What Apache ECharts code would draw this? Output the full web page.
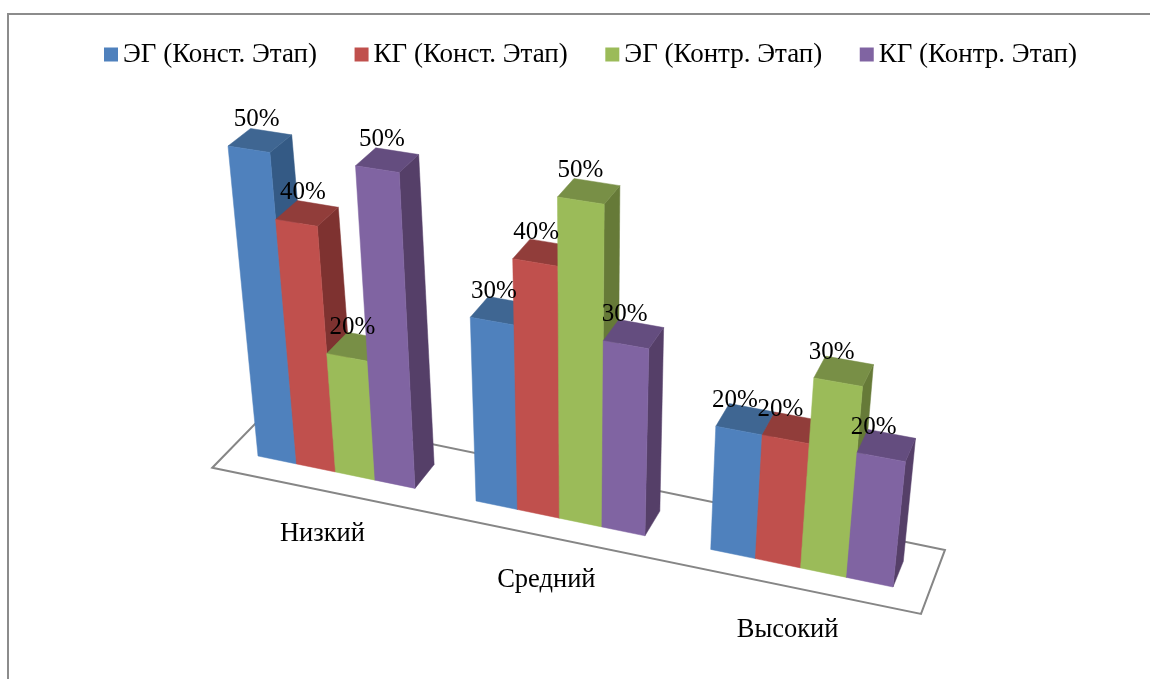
<!DOCTYPE html>
<html>
<head>
<meta charset="utf-8">
<style>html,body{margin:0;padding:0;background:#fff}#c{width:1150px;height:679px}</style>
<script src="https://cdn.jsdelivr.net/npm/echarts@6/dist/echarts.min.js"></script>
</head>
<body>
<div id="c"></div>
<script>
const categories = ['Низкий', 'Средний', 'Высокий'];
const seriesNames = ['ЭГ (Конст. Этап)', 'КГ (Конст. Этап)', 'ЭГ (Контр. Этап)', 'КГ (Контр. Этап)'];
const egStart = [50, 30, 20];
const kgStart = [40, 40, 20];
const egEnd = [20, 50, 30];
const kgEnd = [50, 30, 20];
const seriesValues = [egStart, kgStart, egEnd, kgEnd];

const frontColors = ['#4F81BD', '#C0504D', '#9BBB59', '#8064A2'];
const topColors = ['#3F6692', '#913D3A', '#788F46', '#644D7F'];
const sideColors = ['#345A85', '#7E3230', '#667A38', '#553F68'];

const FONT = '"Liberation Serif"';
const GAP_UNITS = 1.5;          // gap between clusters, in bar widths
const BAR_UNITS = 4 + GAP_UNITS;

// Camera of the 3-D view: a projective map of the axes' plane onto the screen.
const plane = [[258, 456], [893, 587], [926, 254], [228, 146]];
const edgeInset = (GAP_UNITS / 2) / (3 * BAR_UNITS);
const vanish = [1450, -800];
const depthStep = 0.0185;
const BAR_DEPTH = 1, FLOOR_FRONT = -0.76, FLOOR_BACK = 1.72;

const H = (function () {
  const [[x0, y0], [x1, y1], [x2, y2], [x3, y3]] = plane;
  const dx1 = x1 - x2, dx2 = x3 - x2, dy1 = y1 - y2, dy2 = y3 - y2;
  const sx = x0 - x1 + x2 - x3, sy = y0 - y1 + y2 - y3;
  const det = dx1 * dy2 - dx2 * dy1;
  const g = (sx * dy2 - dx2 * sy) / det, h = (dx1 * sy - sx * dy1) / det;
  return { a: x1 - x0 + g * x1, b: x3 - x0 + h * x3, c: x0, d: y1 - y0 + g * y1, e: y3 - y0 + h * y3, f: y0, g, h };
})();

function project(cs, px, py, depth) {
  const u = (px - cs.x) / cs.width;
  const t = (cs.y + cs.height - py) / cs.height;
  const s = (u - edgeInset) / (1 - 2 * edgeInset);
  const w = H.g * s + H.h * t + 1;
  const x = (H.a * s + H.b * t + H.c) / w;
  const y = (H.d * s + H.e * t + H.f) / w;
  const k = depth * depthStep;
  return [x + (vanish[0] - x) * k, y + (vanish[1] - y) * k];
}

function face(points, color, z2) {
  return { type: 'polygon', z2, shape: { points }, style: { fill: color, stroke: color, lineWidth: 0.5 } };
}

function barRenderer(index) {
  return function (params, api) {
    const cs = params.coordSys;
    const value = api.value(1);
    const base = api.coord([api.value(0), 0]);
    const top = api.coord([api.value(0), value]);
    const unit = api.size([1, 0])[0] / BAR_UNITS;
    const xa = base[0] - 2 * unit + index * unit, xb = xa + unit;
    const p = (x, y, d) => project(cs, x, y, d);
    const z = 10 + index * 5 + params.dataIndex * 30;
    const tl = p(xa, top[1], 0), tr = p(xb, top[1], 0);
    const labelAt = p((xa + xb) / 2, top[1], 0);
    return {
      type: 'group',
      children: [
        face([p(xb, base[1], 0), p(xb, base[1], BAR_DEPTH), p(xb, top[1], BAR_DEPTH), tr], sideColors[index], z),
        face([tl, tr, p(xb, top[1], BAR_DEPTH), p(xa, top[1], BAR_DEPTH)], topColors[index], z + 1),
        face([p(xa, base[1], 0), p(xb, base[1], 0), tr, tl], frontColors[index], z + 2),
        {
          type: 'text', z2: 500,
          x: labelAt[0] + (570 - labelAt[0]) * 0.024,
          y: labelAt[1] - 30,
          style: { text: value + '%', fontFamily: FONT, fontSize: 25, fill: '#000', align: 'center', verticalAlign: 'middle' }
        }
      ]
    };
  };
}

function floorRenderer(params, api) {
  const cs = params.coordSys;
  const xl = cs.x, xr = cs.x + cs.width, yb = cs.y + cs.height;
  return {
    type: 'polygon', z2: 1,
    shape: { points: [project(cs, xl, yb, FLOOR_FRONT), project(cs, xr, yb, FLOOR_FRONT), project(cs, xr, yb, FLOOR_BACK), project(cs, xl, yb, FLOOR_BACK)] },
    style: { fill: '#fff', stroke: '#868686', lineWidth: 2 }
  };
}

function categoryRenderer(params, api) {
  const cs = params.coordSys;
  const c = api.coord([api.value(0), 0]);
  const at = project(cs, c[0], c[1], 0);
  return {
    type: 'text', z2: 500, x: at[0] - 13, y: at[1] + 62,
    style: { text: categories[params.dataIndex], fontFamily: FONT, fontSize: 26.5, fill: '#000', align: 'center', verticalAlign: 'middle' }
  };
}

const chart = echarts.init(document.getElementById('c'), null, { renderer: 'canvas' });
chart.setOption({
  animation: false,
  backgroundColor: '#fff',
  color: frontColors,
  graphic: [{
    type: 'rect', silent: true, z: -1,
    shape: { x: 8, y: 14, width: 1400, height: 900 },
    style: { fill: 'transparent', stroke: '#8C8C8C', lineWidth: 2 }
  }],
  legend: {
    data: seriesNames, left: 99, top: 36, icon: 'rect', itemWidth: 14, itemHeight: 14, itemGap: 37.5, selectedMode: false,
    textStyle: { fontFamily: FONT, fontSize: 27, color: '#000' }
  },
  tooltip: { show: false },
  grid: { left: 100, right: 100, top: 100, bottom: 100 },
  xAxis: { type: 'category', data: categories, show: false },
  yAxis: { type: 'value', min: 0, max: 50, show: false },
  series: [
    { type: 'custom', name: 'floor', silent: true, clip: false, renderItem: floorRenderer, data: [[0, 0]], encode: { x: 0, y: 1 } },
    ...seriesNames.map((name, i) => ({
      type: 'custom', name, silent: true, clip: false, renderItem: barRenderer(i),
      itemStyle: { color: frontColors[i] },
      data: seriesValues[i].map((v, c) => [c, v]), encode: { x: 0, y: 1 }
    })),
    { type: 'custom', name: 'labels', silent: true, clip: false, renderItem: categoryRenderer, data: categories.map((_, c) => [c, 0]), encode: { x: 0, y: 1 } }
  ]
});
</script>
</body>
</html>
